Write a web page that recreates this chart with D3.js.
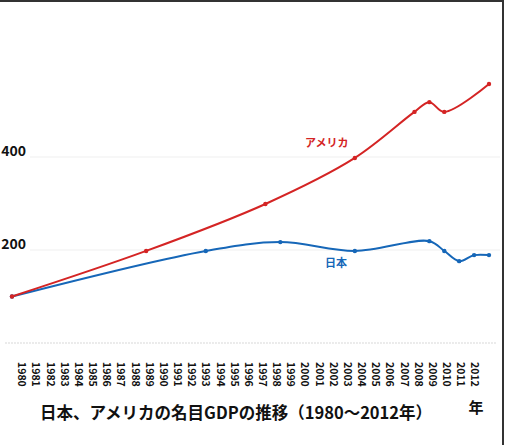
<!DOCTYPE html>
<html>
<head>
<meta charset="utf-8">
<script src="https://cdn.jsdelivr.net/npm/d3@7"></script>
<style>
  html, body { margin: 0; padding: 0; background: #fff; }
  svg { display: block; font-family: "Noto Sans CJK JP", "Noto Sans", sans-serif; }
</style>
</head>
<body>
<svg id="chart" width="506" height="445"></svg>
<script>
// ---- data ----
const yearLabels = ["1980","1981","1982","1983","1984","1985","1986","1987","1988","1989",
  "1990","1991","1992","1993","1994","1995","1996","1997","1998","1999",
  "2000","2001","2002","2003","2004","2005","2006","2007","2008","2009",
  "2010","2011","2012"];
const yTicks = [200, 400];
const usYears  = [1980, 1989, 1997, 2003, 2007, 2008, 2009, 2012];
const usValues = [100, 198, 299, 398, 497, 518, 497, 557];
const jpYears  = [1980, 1993, 1998, 2003, 2008, 2009, 2010, 2011, 2012];
const jpValues = [100, 198, 217, 198, 219, 198, 176, 189, 189];
const usName = "アメリカ";
const jpName = "日本";
const title = "日本、アメリカの名目GDPの推移（1980〜2012年）";
const xUnit = "年";

// ---- drawing ----
const svg = d3.select("#chart");
const RED = "#d42424", BLUE = "#1667b8";

const x = d3.scaleLinear().domain([1980, 2012]).range([12, 489]);
const y = d3.scaleLinear().domain([0, 400]).range([343, 157]);
const xl = d3.scalePoint().domain(yearLabels).range([21.5, 474.5]);

// gridlines
svg.append("g").selectAll("line").data(yTicks).join("line")
  .attr("x1", 30).attr("x2", 500)
  .attr("y1", d => y(d)).attr("y2", d => y(d))
  .attr("stroke", "#efefef").attr("stroke-width", 1);
svg.append("line")
  .attr("x1", 5).attr("x2", 497).attr("y1", y(0)).attr("y2", y(0))
  .attr("stroke", "#d8d8d8").attr("stroke-width", 1.2).attr("stroke-dasharray", "2,1");

// y tick labels
svg.append("g").selectAll("text").data(yTicks).join("text")
  .attr("x", 26).attr("y", d => y(d) - 1.5)
  .attr("text-anchor", "end")
  .attr("font-size", 14).attr("font-weight", "bold").attr("fill", "#111")
  .text(d => d);

// x tick labels (separate label axis)
const xAxis = d3.axisBottom(xl).tickSize(0).tickPadding(0);
const gx = svg.append("g").attr("transform", "translate(0,362)").call(xAxis);
gx.select(".domain").remove();
gx.selectAll("text")
  .attr("transform", "rotate(90)")
  .attr("x", 0).attr("y", 0).attr("dy", "0.35em")
  .attr("text-anchor", "start")
  .attr("font-size", 10.5).attr("font-weight", "bold").attr("fill", "#111")
  .attr("font-family", "\"Noto Sans CJK JP\", sans-serif");

const line = d3.line()
  .x(d => x(d[0])).y(d => y(d[1]))
  .curve(d3.curveCatmullRom.alpha(0.5));

function drawSeries(years, values, color) {
  const pts = years.map((yr, i) => [yr, values[i]]);
  svg.append("path").datum(pts)
    .attr("d", line).attr("fill", "none")
    .attr("stroke", color).attr("stroke-width", 2);
  svg.append("g").selectAll("circle").data(pts).join("circle")
    .attr("cx", d => x(d[0])).attr("cy", d => y(d[1])).attr("r", 2.2)
    .attr("fill", color);
}
drawSeries(jpYears, jpValues, BLUE);
drawSeries(usYears, usValues, RED);

// series labels
svg.append("text").attr("x", 305).attr("y", 147)
  .attr("font-size", 11).attr("font-weight", "bold").attr("fill", RED)
  .text(usName);
svg.append("text").attr("x", 325).attr("y", 267)
  .attr("font-size", 11).attr("font-weight", "bold").attr("fill", BLUE)
  .text(jpName);

// title and unit
svg.append("text").attr("x", 236).attr("y", 419)
  .attr("text-anchor", "middle")
  .attr("font-size", 16.5).attr("font-weight", "bold").attr("fill", "#111")
  .text(title);
svg.append("text").attr("x", 476).attr("y", 413)
  .attr("text-anchor", "middle")
  .attr("font-size", 15).attr("font-weight", "bold").attr("fill", "#111")
  .text(xUnit);

// frame (top and right edges)
svg.append("path")
  .attr("d", "M0,1 H503 V445")
  .attr("fill", "none").attr("stroke", "#333").attr("stroke-width", 2);
</script>
</body>
</html>
